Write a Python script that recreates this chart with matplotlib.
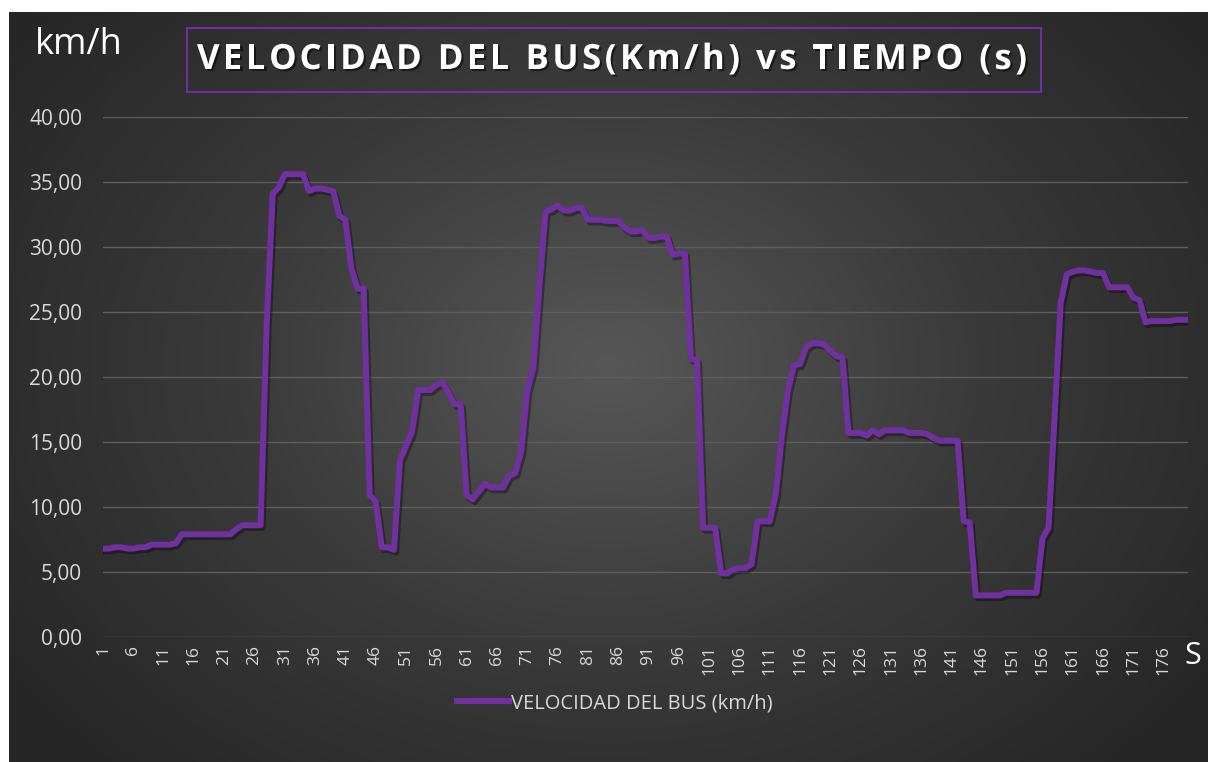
# Velocidad del bus frente al tiempo, estilo de gráfico oscuro

import numpy as np
import matplotlib.pyplot as plt
import matplotlib.patheffects as pe
from matplotlib.colors import LinearSegmentedColormap
from matplotlib.patches import Rectangle
from matplotlib.font_manager import FontProperties
from matplotlib.textpath import TextToPath

plt.rcParams['font.family'] = ['Open Sans', 'DejaVu Sans']

# Datos: velocidad (km/h) en cada segundo
velocidad = [
    6.8, 6.8, 6.9, 6.9, 6.8, 6.8, 6.9, 6.9, 7.1, 7.1,
    7.1, 7.1, 7.2, 7.9, 7.9, 7.9, 7.9, 7.9, 7.9, 7.9,
    7.9, 7.9, 8.3, 8.6, 8.6, 8.6, 8.6, 24.0, 34.1, 34.6,
    35.6, 35.6, 35.6, 35.6, 34.3, 34.5, 34.5, 34.4, 34.3, 32.4,
    32.1, 28.3, 26.8, 26.8, 10.9, 10.4, 6.9, 6.9, 6.7, 13.6,
    14.7, 15.8, 19.0, 19.0, 19.0, 19.4, 19.6, 18.8, 17.9, 17.9,
    10.9, 10.6, 11.2, 11.8, 11.5, 11.5, 11.5, 12.4, 12.6, 14.3,
    19.0, 20.7, 27.0, 32.7, 32.9, 33.2, 32.8, 32.8, 33.0, 33.0,
    32.1, 32.1, 32.1, 32.0, 32.0, 32.0, 31.5, 31.2, 31.2, 31.3,
    30.7, 30.7, 30.8, 30.8, 29.4, 29.5, 29.5, 21.4, 21.3, 8.4,
    8.4, 8.4, 4.9, 4.9, 5.2, 5.3, 5.3, 5.6, 8.9, 8.9,
    8.9, 11.0, 15.5, 19.0, 20.9, 21.0, 22.3, 22.6, 22.6, 22.5,
    22.0, 21.6, 21.5, 15.7, 15.7, 15.7, 15.5, 15.9, 15.6, 15.9,
    15.9, 15.9, 15.9, 15.7, 15.7, 15.7, 15.6, 15.3, 15.1, 15.1,
    15.1, 15.1, 8.9, 8.8, 3.2, 3.2, 3.2, 3.2, 3.2, 3.4,
    3.4, 3.4, 3.4, 3.4, 3.4, 7.6, 8.4, 17.0, 25.7, 27.9,
    28.1, 28.2, 28.2, 28.1, 28.0, 28.0, 26.9, 26.9, 26.9, 26.9,
    26.1, 25.9, 24.2, 24.3, 24.3, 24.3, 24.3, 24.4, 24.4, 24.4,
]
tiempo = np.arange(1, len(velocidad) + 1)
marcas_x = np.arange(1, len(velocidad) + 1, 5)
marcas_y = np.arange(0, 41, 5)
titulo = 'VELOCIDAD DEL BUS(Km/h) vs TIEMPO (s)'

W, H = 1208, 762
DPI = 100
fig = plt.figure(figsize=(W / DPI, H / DPI), dpi=DPI, facecolor='white')

# Fondo con degradado radial
bg = fig.add_axes([9 / W, 0, 1 - 9 / W, 1 - 12 / H])
yy, xx = np.mgrid[0:1:300j, 0:1:400j]
r = np.sqrt(((xx - 0.5) / 0.62) ** 2 + ((yy - 0.47) / 0.75) ** 2)
cmap = LinearSegmentedColormap.from_list('fondo', ['#575757', '#3a3a3a', '#262626'])
bg.imshow(np.clip(r, 0, 1), cmap=cmap, vmin=0, vmax=1, aspect='auto',
          extent=[0, 1, 0, 1], interpolation='bilinear')
bg.axis('off')

ax = fig.add_axes([103 / W, 1 - 637 / H, (1188 - 103) / W, (637 - 117) / H])
ax.set_facecolor('none')
ax.plot(tiempo, velocidad, color='#7030A0', lw=4.3, solid_joinstyle='round',
        label='VELOCIDAD DEL BUS (km/h)',
        path_effects=[pe.SimpleLineShadow(offset=(1.5, -2), shadow_color='black', alpha=0.35),
                      pe.Normal()])
ax.set_xlim(1, len(velocidad))
ax.set_ylim(0, 40)
ax.set_yticks(marcas_y)
ax.set_yticklabels([f'{v:.2f}'.replace('.', ',') for v in marcas_y])
ax.set_xticks(marcas_x)
ax.set_xticklabels([str(v) for v in marcas_x], rotation=90)
ax.grid(axis='y', color='#5e5e5e', lw=1)
ax.set_axisbelow(True)
for s in ax.spines.values():
    s.set_visible(False)
ax.tick_params(axis='y', length=0, pad=15, labelsize=15, labelcolor='#d9d9d9')
ax.tick_params(axis='x', length=0, pad=6, labelsize=12.5, labelcolor='#d9d9d9')

# Etiquetas de ejes
fig.text(35 / W, 1 - 45 / H, 'km/h', color='white', fontsize=26, va='center', ha='left')
fig.text(1193 / W, 1 - 656 / H, 'S', color='white', fontsize=22, va='center', ha='center')

# Título con espaciado entre letras dentro de un recuadro morado
fig.patches.append(Rectangle((187 / W, 1 - 92 / H), (1041 - 187) / W, 64 / H,
                             transform=fig.transFigure, fill=False,
                             edgecolor='#7030A0', lw=1.5))
prop = FontProperties(family='Open Sans', weight='bold', size=25)
ttp = TextToPath()
bar_w = ttp.get_text_width_height_descent('|', prop, ismath=False)[0]
avances = [(ttp.get_text_width_height_descent(titulo[:i] + '|', prop, ismath=False)[0] - bar_w)
           * DPI / 72 for i in range(len(titulo))]
total = ttp.get_text_width_height_descent(titulo, prop, ismath=False)[0] * DPI / 72
espacio = (830 - total) / (len(titulo) - 1)
x0 = 197
sombra = [pe.withSimplePatchShadow(offset=(1.5, -1.5), shadow_rgbFace='black', alpha=0.5)]
for i, ch in enumerate(titulo):
    if ch == ' ':
        continue
    fig.text((x0 + avances[i] + i * espacio) / W, 1 - 60 / H, ch, color='white',
             fontproperties=prop, va='center', ha='left', path_effects=sombra)

leg = ax.legend(loc='center', bbox_to_anchor=(0.472, -0.127), frameon=False,
                fontsize=14.5, labelcolor='#d9d9d9', handlelength=2.6, handletextpad=0.1)
for h in leg.get_lines():
    h.set_path_effects([pe.Normal()])

fig.savefig('out.png', dpi=DPI, facecolor='white')
